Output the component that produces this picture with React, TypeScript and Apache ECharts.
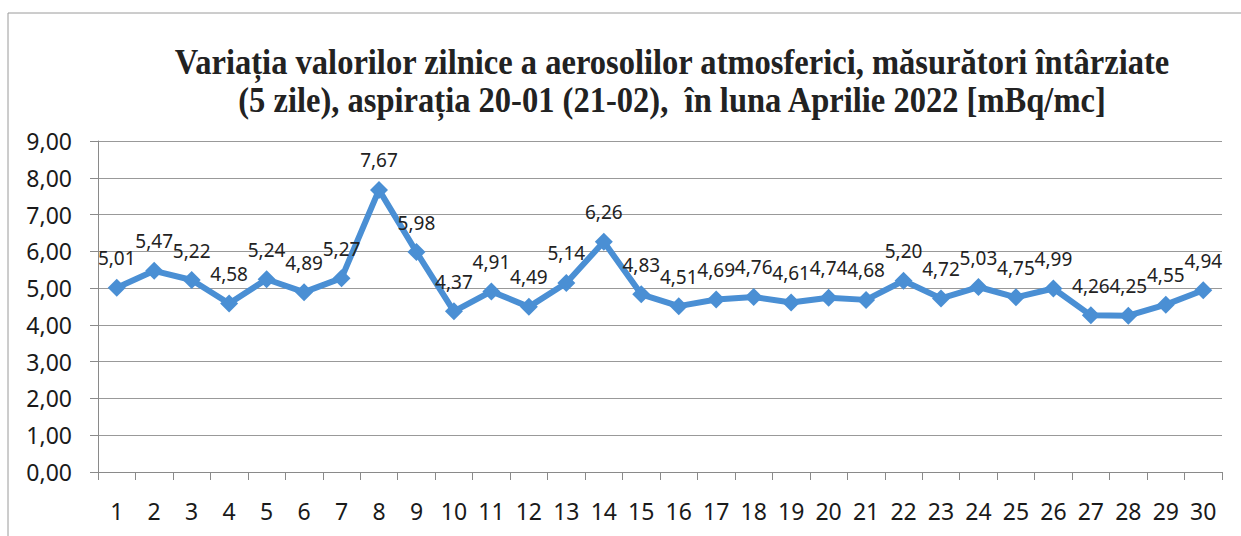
import React, { useEffect, useRef } from "react";
import * as echarts from "echarts";

const days: string[] = [
  "1","2","3","4","5","6","7","8","9","10","11","12","13","14","15",
  "16","17","18","19","20","21","22","23","24","25","26","27","28","29","30",
];
const values: number[] = [
  5.01, 5.47, 5.22, 4.58, 5.24, 4.89, 5.27, 7.67, 5.98, 4.37,
  4.91, 4.49, 5.14, 6.26, 4.83, 4.51, 4.69, 4.76, 4.61, 4.74,
  4.68, 5.2, 4.72, 5.03, 4.75, 4.99, 4.26, 4.25, 4.55, 4.94,
];
const titleLines: string[] = [
  "Variația valorilor zilnice a aerosolilor atmosferici, măsurători întârziate",
  "(5 zile), aspirația 20-01 (21-02),  în luna Aprilie 2022 [mBq/mc]",
];

const fmt = (v: number) => v.toFixed(2).replace(".", ",");

export default function App() {
  const ref = useRef<HTMLDivElement>(null);
  useEffect(() => {
    if (!ref.current) return;
    const chart = echarts.init(ref.current, undefined, { renderer: "svg" });
    chart.setOption({
      animation: false,
      backgroundColor: "#ffffff",
      textStyle: { fontFamily: "Noto Sans" },
      graphic: [
        {
          type: "rect",
          shape: { x: 8, y: 13, width: 1260, height: 600 },
          style: { fill: "none", stroke: "#9a9a9a", lineWidth: 1 },
          silent: true,
        },
        ...titleLines.map((t, i) => ({
          type: "text",
          x: 672,
          y: 62 + i * 38,
          scaleX: 0.93,
          style: {
            text: t,
            font: 'bold 35px "Liberation Serif"',
            fill: "#222222",
            textAlign: "center",
            textVerticalAlign: "middle",
          },
        })),
      ],
      grid: { left: 98, right: 19, top: 141, bottom: 64, containLabel: false },
      xAxis: {
        type: "category",
        data: days,
        boundaryGap: true,
        axisLine: { lineStyle: { color: "#8a8a8a", width: 1 } },
        axisTick: { show: true, length: 8, lineStyle: { color: "#8a8a8a" } },
        axisLabel: { color: "#1a1a1a", fontSize: 23, margin: 27, fontFamily: "Noto Sans" },
        splitLine: { show: false },
      },
      yAxis: {
        type: "value",
        min: 0,
        max: 9,
        interval: 1,
        axisLine: { show: true, lineStyle: { color: "#8a8a8a", width: 1 } },
        axisTick: { show: true, length: 8, lineStyle: { color: "#8a8a8a" } },
        axisLabel: {
          color: "#1a1a1a",
          fontSize: 23,
          margin: 26,
          fontFamily: "Noto Sans",
          formatter: (v: number) => fmt(v),
        },
        splitLine: { show: true, lineStyle: { color: "#999999", width: 1 } },
      },
      series: [
        {
          type: "line",
          data: values,
          color: "#4a8fd4",
          lineStyle: { width: 6, color: "#4a8fd4" },
          symbol: "diamond",
          symbolSize: 18,
          itemStyle: { color: "#4a8fd4" },
          label: {
            show: true,
            position: "top",
            distance: 11,
            color: "#222222",
            fontSize: 19,
            fontFamily: "Noto Sans",
            formatter: (p: any) => fmt(p.value),
          },
        },
      ],
    });
    return () => chart.dispose();
  }, []);
  return (
    <div
      ref={ref}
      style={{ position: "absolute", left: 0, top: 0, width: 1241, height: 536 }}
    />
  );
}
